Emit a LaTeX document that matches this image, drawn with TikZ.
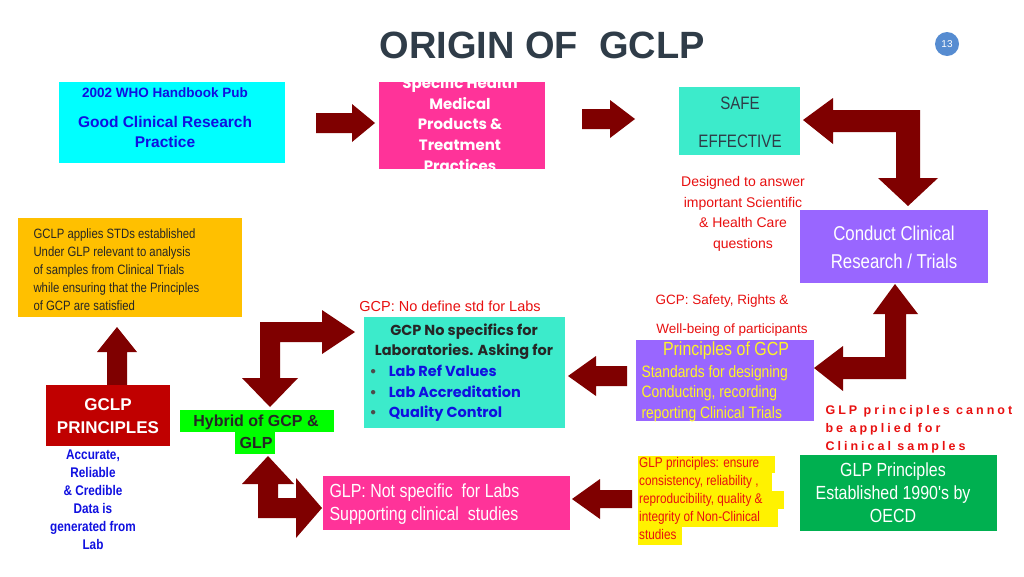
\documentclass[tikz,border=0pt]{standalone}
\usepackage{fontspec}
\setmainfont{Liberation Sans}
\newfontfamily\popp{Poppins}
\newfontfamily\narrow[FakeStretch=0.84]{Liberation Sans}
\usepackage{xcolor}
\usetikzlibrary{positioning}
\definecolor{blk}{HTML}{7F0000}
\definecolor{aqua}{HTML}{3CEBCB}
\definecolor{cyanbox}{HTML}{00FFFF}
\definecolor{pinkbox}{HTML}{FF3399}
\definecolor{purp}{HTML}{9966FF}
\definecolor{gold}{HTML}{FFC000}
\definecolor{glpgreen}{HTML}{00B050}
\definecolor{gclpred}{HTML}{C00000}
\definecolor{txtred}{HTML}{E81010}
\definecolor{txtblue}{HTML}{1010E0}
\definecolor{slate}{HTML}{2F3C48}

\begin{document}
\begin{tikzpicture}[x=1pt, y=-1pt,
    blockarrow/.style={fill=blk}
]
\useasboundingbox[fill=white] (0,0) rectangle (1024,576);

% Title and page number
\node[font=\bfseries\fontsize{38}{40}\selectfont, text=slate] (title) at (542,45) {ORIGIN OF\ \ GCLP};
\node[circle, fill=cyan!50!blue!70, text=white, minimum size=24pt, inner sep=0pt, font=\fontsize{10}{12}\selectfont] (pg) at (947,44) {13};

% Top row
\fill[cyanbox] (59,82) rectangle (285,163);
\node[font=\bfseries\fontsize{13.5}{16}\selectfont, text=txtblue] (who) at (165,93) {2002 WHO Handbook Pub};
\node[font=\bfseries\fontsize{15.5}{20}\selectfont, text=txtblue, align=center] (gcrp) at (165,132) {Good Clinical Research\\Practice};

\begin{scope}
  \clip (379,82) rectangle (545,169);
  \fill[pinkbox] (379,82) rectangle (545,169);
  \node[font=\popp\bfseries\fontsize{15}{20.7}\selectfont, text=white, align=center] (spec) at (460,124)
    {Specific Health\\Medical\\Products \&\\Treatment\\Practices};
\end{scope}

\fill[aqua] (679,87) rectangle (800,155);
\node[font=\narrow\fontsize{18}{20}\selectfont, text=slate] (safe) at (740,103) {SAFE};
\node[font=\narrow\fontsize{18}{20}\selectfont, text=slate] (eff) at (740,141) {EFFECTIVE};

% Top arrows
\fill[blockarrow] (316,113) -- (352,113) -- (352,104) -- (375,123) -- (352,142) -- (352,133) -- (316,133) -- cycle;
\fill[blockarrow] (582,109) -- (610,109) -- (610,100) -- (635,119) -- (610,138) -- (610,129) -- (582,129) -- cycle;
% bent arrow SAFE -> Conduct
\fill[blockarrow] (803,120) -- (833,98) -- (833,110) -- (920,110) -- (920,178) -- (938,178) -- (908,206) -- (878,178) -- (896,178) -- (896,132) -- (833,132) -- (833,144) -- cycle;

\node[font=\fontsize{14}{20.5}\selectfont, text=txtred, align=center] (designed) at (743,214)
  {Designed to answer\\important Scientific\\\& Health Care\\questions};

\fill[purp] (800,210) rectangle (988,283);
\node[font=\narrow\fontsize{20}{28}\selectfont, text=white, align=center] (conduct) at (894,247) {Conduct Clinical\\Research / Trials};

% Left column
\fill[gold] (18,218) rectangle (242,317);
\node[font=\narrow\fontsize{13.5}{18}\selectfont, text=black!85, align=left, anchor=north west] (gclpapp) at (30,225)
  {GCLP applies STDs established\\Under GLP relevant to analysis\\of samples from Clinical Trials\\while ensuring that the Principles\\of GCP are satisfied};

\fill[blockarrow] (107,385) -- (107,352) -- (97,352) -- (117,327) -- (137,352) -- (127,352) -- (127,385) -- cycle;

\fill[gclpred] (46,385) rectangle (170,446);
\node[font=\bfseries\fontsize{17}{23}\selectfont, text=white, align=center] (gclp) at (108,416) {GCLP\\PRINCIPLES};
\node[font=\narrow\bfseries\fontsize{14}{18}\selectfont, text=txtblue, align=center, anchor=north] (accurate) at (93,446)
  {Accurate,\\Reliable\\\& Credible\\Data is\\generated from\\Lab};

% Hybrid
\fill[green] (180,410) rectangle (334,432);
\fill[green] (235,432) rectangle (275,454);
\node[font=\bfseries\fontsize{16}{22}\selectfont, text=black!85, align=center] (hybrid) at (256,432) {Hybrid of GCP \&\\GLP};

% bent arrows around hybrid
\fill[blockarrow] (260,378) -- (260,322) -- (322,322) -- (322,310) -- (355,332) -- (322,354) -- (322,342) -- (280,342) -- (280,378) -- (298,378) -- (270,407) -- (242,378) -- cycle;
\fill[blockarrow] (268,456) -- (294,484) -- (278,484) -- (278,498) -- (296,498) -- (296,478) -- (322,508) -- (296,538) -- (296,518) -- (258,518) -- (258,484) -- (242,484) -- cycle;

% GCP lab box
\node[font=\fontsize{14.5}{18}\selectfont, text=txtred] (nodef) at (450,306) {GCP: No define std for Labs};
\fill[aqua] (364,317) rectangle (565,428);
\node[font=\popp\bfseries\fontsize{14.5}{20.5}\selectfont, text=black!85, align=center, anchor=north] (nospec) at (464,320)
  {GCP No specifics for\\Laboratories. Asking for};
\node[font=\popp\bfseries\fontsize{14.5}{20.5}\selectfont, text=txtblue, align=left, anchor=north west] (bullets) at (366,362)
  {\textcolor{black!70}{\textbullet}\hspace{12pt}Lab Ref Values\\\textcolor{black!70}{\textbullet}\hspace{12pt}Lab Accreditation\\\textcolor{black!70}{\textbullet}\hspace{12pt}Quality Control};

% GCP principles
\node[font=\fontsize{13.5}{16}\selectfont, text=txtred] (safety) at (722,301) {GCP: Safety, Rights \&};
\node[font=\fontsize{13.5}{16}\selectfont, text=txtred] (wellb) at (732,330) {Well-being of participants};
\fill[purp] (636,340) rectangle (814,421);
\node[font=\narrow\fontsize{19}{20}\selectfont, text=yellow!85!white] (pgcp) at (726,351) {Principles of GCP};
\node[font=\narrow\fontsize{16.5}{20.5}\selectfont, text=yellow!85!white, align=left, anchor=north west] (stds) at (638,362)
  {Standards for designing\\Conducting, recording\\reporting Clinical Trials};

\fill[blockarrow] (627,366) -- (596,366) -- (596,356) -- (568,376) -- (596,396) -- (596,386) -- (627,386) -- cycle;
% bent arrow principles <-> conduct
\fill[blockarrow] (895,284) -- (918,314) -- (906,314) -- (906,379) -- (843,379) -- (843,391) -- (814,368) -- (843,346) -- (843,357) -- (885,357) -- (885,314) -- (873,314) -- cycle;

\node[font=\bfseries\fontsize{12.5}{18}\selectfont\addfontfeature{LetterSpace=24}, text=txtred, align=left, anchor=north west] (cannot) at (822,402)
  {GLP principles cannot\\be applied for\\Clinical samples};

% GLP row
\fill[glpgreen] (800,455) rectangle (997,531);
\node[font=\narrow\fontsize{19}{23}\selectfont, text=white, align=center] (glpp) at (893,493) {GLP Principles\\Established 1990's by\\OECD};

\fill[yellow] (638,456) rectangle (775,473);
\fill[yellow] (638,473) rectangle (772,491);
\fill[yellow] (638,491) rectangle (784,509);
\fill[yellow] (638,509) rectangle (778,527);
\fill[yellow] (638,527) rectangle (682,545);
\node[font=\narrow\fontsize{14}{18}\selectfont, text=txtred, align=left, anchor=north west, inner sep=0pt] (ensure) at (639,457)
  {GLP principles: ensure\\consistency, reliability ,\\reproducibility, quality \&\\integrity of Non-Clinical\\studies};

\fill[blockarrow] (632,490) -- (600,490) -- (600,479) -- (572,499) -- (600,519) -- (600,508) -- (632,508) -- cycle;

\fill[pinkbox] (323,476) rectangle (570,530);
\node[font=\narrow\fontsize{19}{23}\selectfont, text=white, align=left, anchor=north west] (notspec) at (326,480)
  {GLP:\ Not specific\ \ for Labs\\Supporting clinical\ \ studies};
\end{tikzpicture}
\end{document}
